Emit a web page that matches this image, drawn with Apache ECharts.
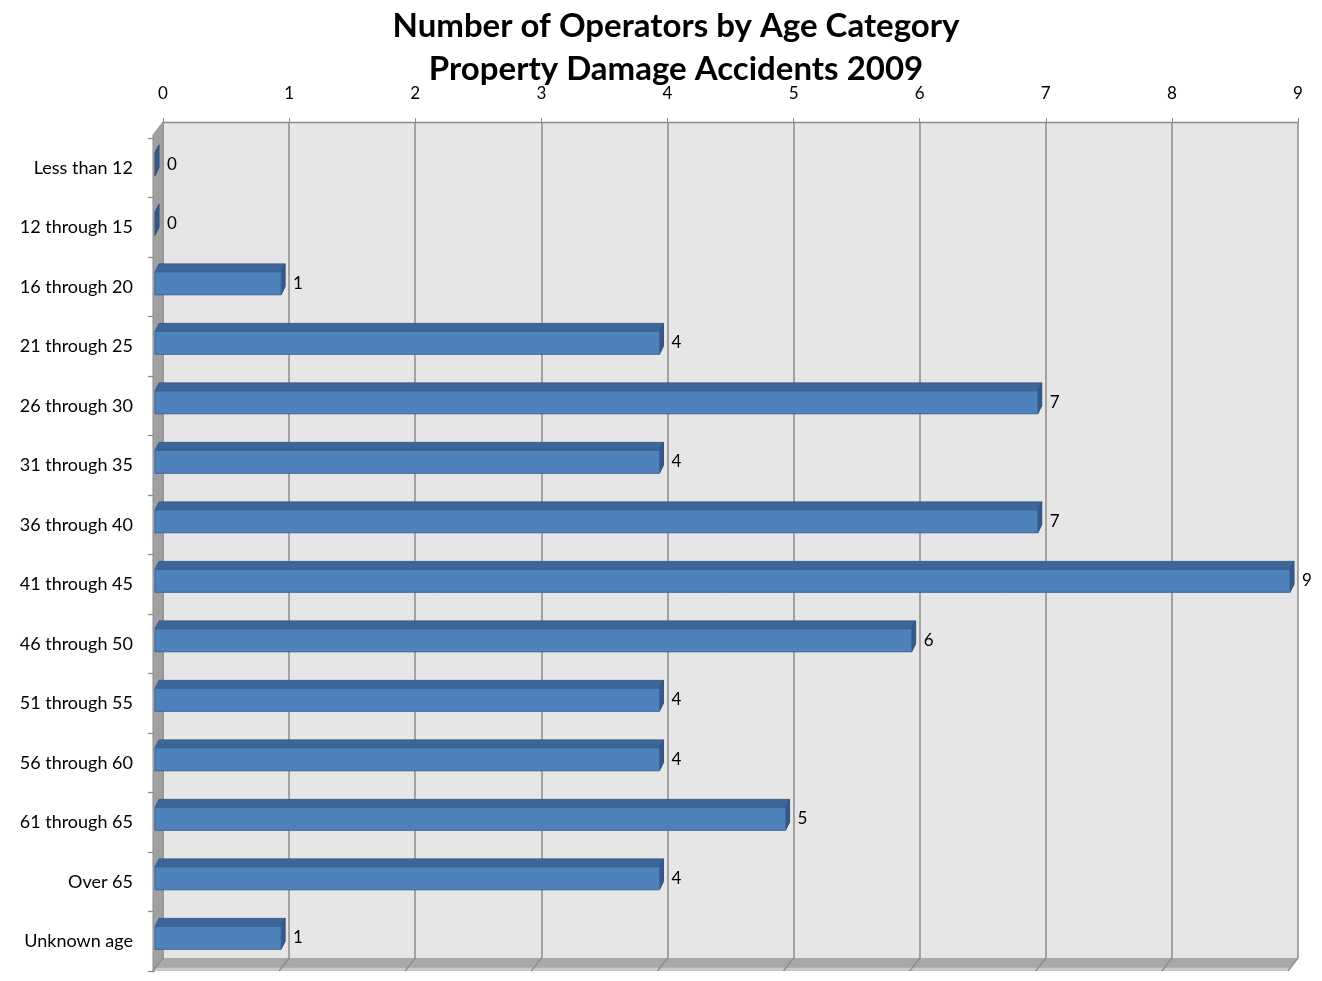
<!DOCTYPE html>
<html>
<head>
<meta charset="utf-8">
<script src="https://cdn.jsdelivr.net/npm/echarts@6/dist/echarts.min.js"></script>
<style>html,body{margin:0;padding:0;background:#fff}#c{width:1322px;height:981px}</style>
</head>
<body>
<div id="c"></div>
<script>
var categories = ["Less than 12","12 through 15","16 through 20","21 through 25","26 through 30","31 through 35","36 through 40","41 through 45","46 through 50","51 through 55","56 through 60","61 through 65","Over 65","Unknown age"];
var operators = [0,0,1,4,7,4,7,9,6,4,4,5,4,1];
var valueTicks = [0,1,2,3,4,5,6,7,8,9];
var titleLines = ["Number of Operators by Age Category","Property Damage Accidents 2009"];

var FONT = "Lato, 'Open Sans', sans-serif";
var chart = echarts.init(document.getElementById('c'), null, {renderer:'canvas'});

function renderWalls(params, api){
  var cs = params.coordSys;
  var fx = -10, fy = 13;
  var L = cs.x, T = cs.y, R = cs.x + cs.width, B = cs.y + cs.height;
  var kids = [];
  kids.push({type:'polygon', shape:{points:[[L,T],[L,B],[L+fx,B+fy],[L+fx,T+fy]]}, style:{fill:'#a0a0a0', stroke:'#8c8c8c', lineWidth:1}});
  kids.push({type:'polygon', shape:{points:[[L,B],[R,B],[R+fx,B+fy],[L+fx,B+fy]]}, style:{fill:'#a8a8a8'}});
  kids.push({type:'polygon', shape:{points:[[L+fx*0.75,B+fy*0.75],[R+fx*0.75,B+fy*0.75],[R+fx,B+fy],[L+fx,B+fy]]}, style:{fill:'#c9c9c9'}});
  for (var i = 0; i < valueTicks.length; i++){
    var p = api.coord([valueTicks[i], 0]);
    kids.push({type:'line', shape:{x1:p[0], y1:B, x2:p[0]+fx, y2:B+fy}, style:{stroke:'#8c8c8c', lineWidth:1.3}});
  }
  return {type:'group', children:kids};
}

function renderBar(params, api){
  var v = api.value(0);
  var cat = api.value(1);
  var p0 = api.coord([0, cat]);
  var p1 = api.coord([v, cat]);
  var band = api.size([0, 1])[1];
  var top = p0[1] - band*0.25, bot = p0[1] + band*0.135;
  var dx = 4, dy = -8;
  var x0 = p0[0], x1 = p1[0];
  var kids = [];
  kids.push({type:'polygon', shape:{points:[[x0,top],[x1,top],[x1+dx,top+dy],[x0+dx,top+dy]]}, style:{fill:'#3c6598', stroke:'#385d8a', lineWidth:1}});
  kids.push({type:'polygon', shape:{points:[[x1,top],[x1+dx,top+dy],[x1+dx,bot+dy],[x1,bot]]}, style:{fill:'#35598a', stroke:'#30527f', lineWidth:1}});
  if (x1 > x0) {
    kids.push({type:'rect', shape:{x:x0, y:top, width:x1-x0, height:bot-top}, style:{fill:'#4f81bd', stroke:'#3d6494', lineWidth:1}});
  }
  kids.push({type:'text', style:{text:String(v), x:x1+12, y:(top+bot)/2, fill:'#000', font:'17px ' + FONT, verticalAlign:'middle', align:'left'}});
  return {type:'group', children:kids};
}

var barData = operators.map(function(v, i){ return [v, i]; });

chart.setOption({
  animation:false,
  backgroundColor:'#fff',
  title:{
    text: titleLines.join('\n'),
    left:671, top:0, textAlign:'center',
    textStyle:{fontFamily:FONT, fontSize:33, fontWeight:'bold', color:'#000', lineHeight:43}
  },
  grid:[
    {left:163, right:24, top:122, bottom:23, show:true, backgroundColor:'#e6e6e6', borderWidth:0},
    {left:155, right:32, top:138, bottom:10, show:false}
  ],
  xAxis:[
    {gridIndex:0, type:'value', position:'top', min:0, max:9, interval:1,
     axisLine:{show:true, lineStyle:{color:'#8c8c8c', width:1.3}},
     axisTick:{show:true, length:4, lineStyle:{color:'#8c8c8c'}},
     axisLabel:{color:'#000', fontFamily:FONT, fontSize:17, margin:20},
     splitLine:{show:true, lineStyle:{color:'#8c8c8c', width:1.5}}},
    {gridIndex:1, type:'value', min:0, max:9, interval:1, show:false}
  ],
  yAxis:[
    {gridIndex:0, type:'category', data:categories, inverse:true, show:false},
    {gridIndex:1, type:'category', data:categories, inverse:true,
     axisLine:{show:false},
     axisTick:{show:true, length:7, lineStyle:{color:'#8c8c8c', width:1.3}},
     axisLabel:{color:'#000', fontFamily:FONT, fontSize:18, margin:22}}
  ],
  series:[
    {type:'custom', xAxisIndex:0, yAxisIndex:0, data:[[0,0]], renderItem:renderWalls, silent:true, z:1},
    {type:'custom', xAxisIndex:1, yAxisIndex:1, data:barData, encode:{x:0, y:1}, renderItem:renderBar, z:5}
  ]
});
</script>
</body>
</html>
